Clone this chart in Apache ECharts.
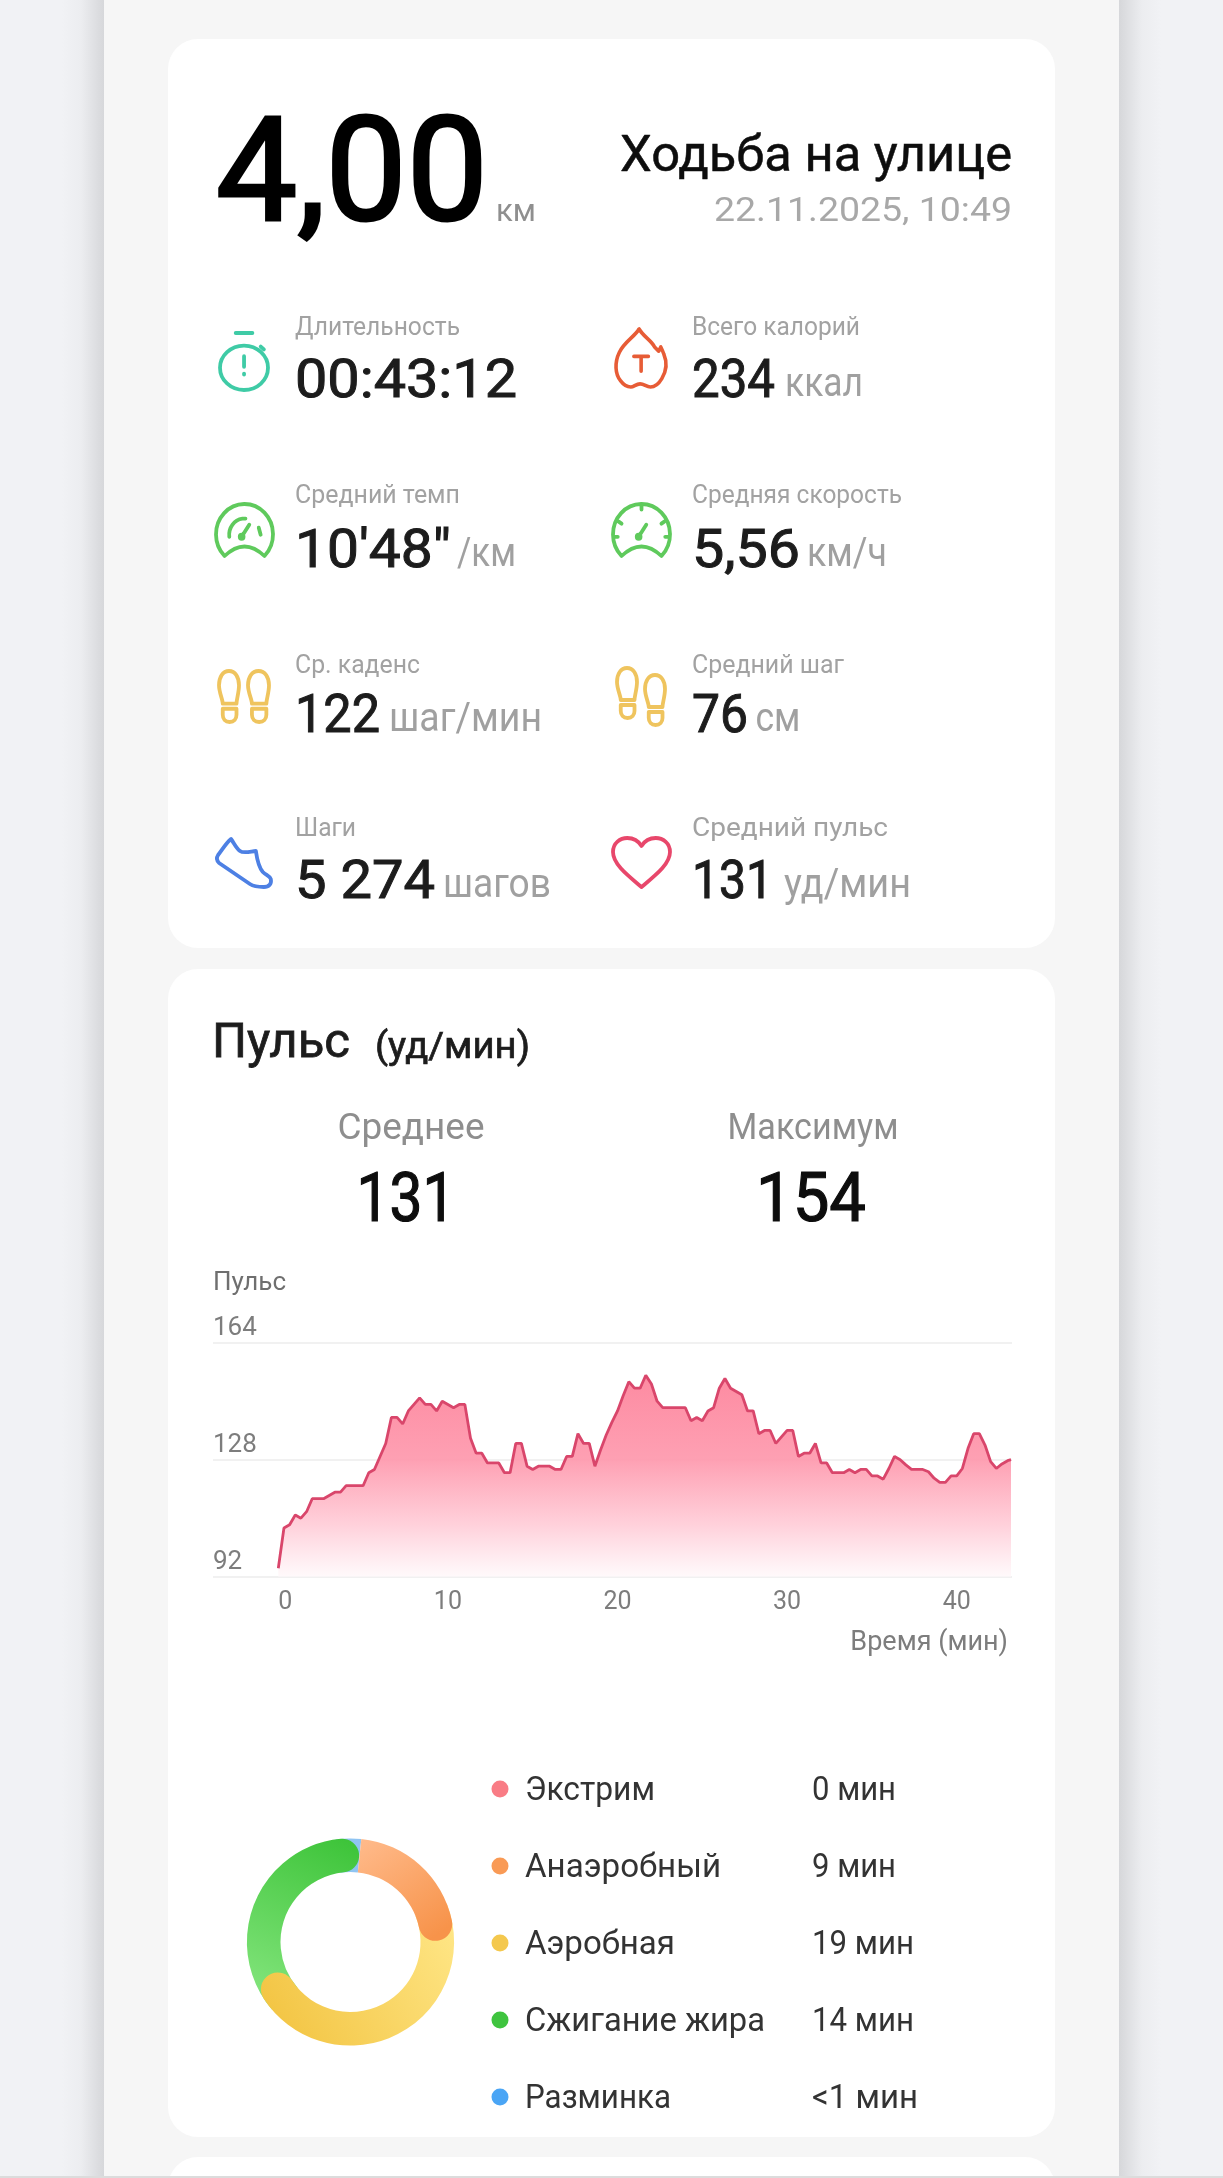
<!DOCTYPE html>
<html lang="ru">
<head>
<meta charset="utf-8">
<title>Ходьба на улице</title>
<style>html,body{margin:0;padding:0;background:#f1f2f5}#c{width:1223px;height:2178px}</style>
<script src="https://cdn.jsdelivr.net/npm/echarts@6/dist/echarts.min.js"></script>
</head>
<body>
<div id="c"></div>
<script>
// ---------- data ----------
const distanceValue = '4,00';
const distanceUnit = 'км';
const activityTitle = 'Ходьба на улице';
const activityDate = '22.11.2025, 10:49';
const metricLabels = ['Длительность','Всего калорий','Средний темп','Средняя скорость','Ср. каденс','Средний шаг','Шаги','Средний пульс'];
const metricValues = ['00:43:12','234','10\'48"','5,56','122','76','5 274','131'];
const metricUnits = ['','ккал','/км','км/ч','шаг/мин','см','шагов','уд/мин'];
const pulseTitle = 'Пульс';
const pulseUnit = '(уд/мин)';
const summaryLabels = ['Среднее','Максимум'];
const summaryValues = ['131','154'];
const yTicks = [92,128,164];
const xAxisName = 'Время (мин)';
const yAxisName = 'Пульс';
const durationMin = 43.2;
const sampleStepMin = 1/3;
// one heart-rate reading every 20 s
const pulse = [94.6,107,108,111,110,112,116,116,116,117,118,118,120,120,120,120,124,125,129,133,141,141,139,143,145,147,145,145,143,146,145,144,145,145,134.6,130,130,127,127,127,124,124,133,133,126,125,126,126,126,125,125,129,129,136,133,133,126,131,135.6,139.5,143,147.7,152,150,150,154,151.3,146,144,144,144,144,144,140,141,140,143,144,150,153,150,149,148,143,143,136,137,137,133,135,137,137,129,130,130,133,127,127,124,124,124,125,124,125,125,123,123,122,125.3,129,128,126.4,125,125,125,124.3,122.3,121,121,123,123,125.3,131.5,136,136,132.5,127.4,125.3,126.7,127.7,128];
const zoneNames = ['Экстрим','Анаэробный','Аэробная','Сжигание жира','Разминка'];
const zoneMinutes = [0,9,19,14,0.5];
const zoneTexts = ['0 мин','9 мин','19 мин','14 мин','<1 мин'];
const zoneColors = ['#f97c85','#f99a55','#f4c84e','#3fc43f','#4aa5f5'];

// ---------- helpers ----------
const FONT = 'Roboto, "Noto Sans", sans-serif';
const mctx = document.createElement('canvas').getContext('2d');
// base = text baseline; w = width of the text in the page (glyphs are stretched to it); bold = extra outline
function txt(x, base, text, size, color, align, weight, w, bold){
  const font=(weight||400)+' '+size+'px '+FONT;
  mctx.font=font;
  const sx = w ? w/mctx.measureText(text).width : 1;
  const style={text:text, fill:color, font:font, textAlign:align||'left', textVerticalAlign:'middle', verticalAlign:'middle'};
  if(bold){style.stroke=color; style.lineWidth=bold;}
  return {type:'text', x:x, y:base-size*0.27, z:10, silent:true, scaleX:sx, scaleY:1, style:style};
}
const lin=(x,y,x2,y2,a,b)=>({type:'linear',x,y,x2,y2,colorStops:[{offset:0,color:a},{offset:1,color:b}]});

// ---------- page furniture ----------
const g=[];
g.push({type:'rect',z:0,silent:true,shape:{x:62,y:0,width:42,height:2178},style:{fill:{type:'linear',x:0,y:0,x2:1,y2:0,colorStops:[{offset:0,color:'#f1f2f5'},{offset:.45,color:'#ecedf0'},{offset:1,color:'#d6d7da'}]}}});
g.push({type:'rect',z:0,silent:true,shape:{x:1119,y:0,width:42,height:2178},style:{fill:{type:'linear',x:0,y:0,x2:1,y2:0,colorStops:[{offset:0,color:'#d6d7da'},{offset:.55,color:'#ecedf0'},{offset:1,color:'#f1f2f5'}]}}});
g.push({type:'rect',z:1,silent:true,shape:{x:104,y:0,width:1015,height:2178},style:{fill:'#f6f6f6'}});
[[39,909],[969,1168],[2157,60]].forEach(c=>g.push({type:'rect',z:2,silent:true,shape:{x:168,y:c[0],width:887,height:c[1],r:30},style:{fill:'#ffffff'}}));
g.push({type:'rect',z:3,silent:true,shape:{x:0,y:2176,width:1223,height:2},style:{fill:'#dcdcdc'}});

// ---------- headline ----------
g.push(txt(216,223,distanceValue,144,'#000000','left',400,272,3));
g.push(txt(496,222,distanceUnit,32,'#8f8f8f','left',400,40));
g.push(txt(1012,172,activityTitle,50,'#0d0d0d','right',400,392,.5));
g.push(txt(1012,222,activityDate,34,'#a8a8a8','right',400,298));

// ---------- metrics ----------
const colX=[296,693];
const labelBase=[335,503,673,836];
const valueBase=[398,568,733,899];
const unitX=[0,785,457,807,389,755.5,443,784];
const labelW=[165,168,165,210,125,152,61,196];
const valueW=[222,83,156,108,85,56,140,81];
const unitW=[0,78,59,80,153,45,108,127];
metricLabels.forEach((l,i)=>{
  const c=i%2, r=(i-c)/2;
  g.push(txt(colX[c]-1,labelBase[r],l,25,'#a2a2a2','left',400,labelW[i]));
  g.push(txt(colX[c]-1,valueBase[r],metricValues[i],54,'#1c1c1c','left',400,valueW[i],1));
  if(metricUnits[i]) g.push(txt(unitX[i],valueBase[r]-1,metricUnits[i],41,'#a0a0a0','left',400,unitW[i]));
});

// ---------- pulse header ----------
g.push(txt(212,1058,pulseTitle,48,'#1c1c1c','left',400,138,.8));
g.push(txt(375,1059,pulseUnit,36,'#1c1c1c','left',400,155,.7));
g.push(txt(411,1140,summaryLabels[0],36,'#8e8e8e','center',400,147));
g.push(txt(813,1140,summaryLabels[1],36,'#8e8e8e','center',400,171));
g.push(txt(406,1222,summaryValues[0],68,'#0d0d0d','center',400,99,1.2));
g.push(txt(811,1222,summaryValues[1],68,'#0d0d0d','center',400,110,1.2));

// ---------- zone legend ----------
const legendY=[1789,1866,1943,2020,2097];
const nameW=[130,196,150,240,146];
const textW=[84,84,102,102,106];
zoneNames.forEach((n,i)=>{
  g.push({type:'circle',z:10,silent:true,shape:{cx:500,cy:legendY[i],r:8.5},style:{fill:zoneColors[i]}});
  g.push(txt(525,legendY[i]+12,n,32.5,'#333333','left',400,nameW[i]));
  g.push(txt(812,legendY[i]+12,zoneTexts[i],32.5,'#333333','left',400,textW[i]));
});

// ---------- icons (custom series: one outline path per datum) ----------
const green='#5fca5c', amber='#efc45e';
const foot='M8 1C13 1 16 7 16 15C16 22 14 29 14 33H3C3 29 0 22 0 15C0 7 3 1 8 1Z M3 38H14V44C14 48 12 51 8.500 51C5 51 3 48 3 44Z';
const needle='M27 33L35 21 M25 33a2 2 0 1 0 4 0a2 2 0 1 0 -4 0';
const icons=[
 ['M17 1H33 M25 14A23 23 0 1 1 24.9 14Z M41 15L44 18 M25 25V36 M25 43V44',220,333,48,57,'#3fcba6',3.8],
 ['M24 1C20 8 10 13 5 23C0 33 1 44 6 50C9 54 12 56 16 56C19 56 21 53 25 53C29 53 31 56 35 56C39 56 43 53 46 48C51 40 51 32 48 25C47 22 46 20 45 18L43 22L39 18C36 12 28 8 24 1Z M19 27H33 M26 27V41',616,329,50,58,'#e75c36',3.6],
 ['M9 52A30 30 0 1 1 51 52Q30 33 9 52Z M14 33A16 16 0 0 1 31 15 M45 24L47 31 '+needle,216,504,57,52,green,3.8],
 ['M9 52A30 30 0 1 1 51 52Q30 33 9 52Z M30 2V6 M6 18L9 20 M54 18L51 20 M2 33H5 M58 33H55 '+needle,613,504,57,52,green,3.8],
 [foot,219,671,20,51,amber,3.8],
 [foot,248,671,21,51,amber,3.8],
 [foot,617,668,20,50,amber,3.8],
 [foot,645,675,20,50,amber,3.8],
 ['M15 1C10 5 6 12 2 17C0 20 1 23 3 25L34 46C37 48 40 49 48 49C53 49 56 46 55 41C54 38 50 37 47 34C42 28 41 20 40 13C36 13 28 16 24 13C20 10 18 5 15 1Z',217,839,54,48,'#4d80e4',3.8],
 ['M29 50C15 38 1 27 1 15C1 6 8 1 15 1C21 1 26 4 29 9C32 4 37 1 43 1C50 1 57 6 57 15C57 27 43 38 29 50Z',613,838,57,49,'#e8476b',3.8]
];
const iconSeries={type:'custom',coordinateSystem:'none',silent:true,z:10,animation:false,
  data:icons.map((_,i)=>i),
  renderItem:(p)=>{const a=icons[p.dataIndex];return {type:'path',
    shape:{pathData:a[0],x:a[1],y:a[2],width:a[3],height:a[4],layout:'cover'},
    style:{fill:'none',stroke:a[5],lineWidth:a[6],lineCap:'round',lineJoin:'round'}};}};

// ---------- series ----------
const pulseData = pulse.map((v,i)=>[Math.min(i*sampleStepMin,durationMin),v]);

// donut: one pie per zone, painted so each rounded end overlaps the next zone
const zoneTotal = zoneMinutes.reduce((a,b)=>a+b,0);
const degPerMin = 360/zoneTotal;
const donutStart = 6, capOver = 5, underlap = 14;
function ring(idx, fromDeg, toDeg, fill, round){
  const span=toDeg-fromDeg;
  return {type:'pie', name:zoneNames[idx], z:4, silent:true, animation:false,
    center:[350.5,1942], radius:[70,103.6], startAngle:90-fromDeg, clockwise:true,
    label:{show:false}, labelLine:{show:false}, avoidLabelOverlap:false,
    data:[{value:span, name:zoneNames[idx], itemStyle:{color:fill, borderRadius:round?[0,16.8,0,16.8]:0}},
          {value:360-span, itemStyle:{color:'rgba(0,0,0,0)'}}]};
}
const aEnd=donutStart+zoneMinutes[1]*degPerMin;
const yEnd=aEnd+zoneMinutes[2]*degPerMin;
const gEnd=yEnd+zoneMinutes[3]*degPerMin;
const pies=[
  ring(4, donutStart-zoneMinutes[4]*degPerMin-10, donutStart, '#8fc4f2', false),
  ring(3, yEnd-underlap, gEnd+capOver-1, lin(.15,1,.85,0,'#86e67f','#3ec43a'), true),
  ring(2, aEnd-underlap, yEnd+capOver, lin(1,.05,.05,.8,'#ffe788','#f3c544'), true),
  ring(1, donutStart, aEnd+capOver+2, lin(0,0,.75,1,'#ffbb8c','#f7934a'), true)
];

const option = {
  backgroundColor:'#f1f2f5',
  animation:false,
  textStyle:{fontFamily:FONT},
  graphic:{elements:g},
  grid:[
    {left:213,right:211,top:1342.7,height:234},
    {left:278.3,right:212,top:1342.7,height:234}
  ],
  xAxis:[
    {gridIndex:0,type:'value',min:0,max:1,show:false},
    {gridIndex:1,type:'value',min:0,max:durationMin,interval:10,z:3,
     axisLine:{show:false},axisTick:{show:false},splitLine:{show:false},
     axisLabel:{color:'#7d7d7d',fontSize:25,margin:14,showMaxLabel:false,alignMinLabel:'left'},
     name:xAxisName,nameLocation:'end',nameGap:-3,
     nameTextStyle:{color:'#7d7d7d',fontSize:27,align:'right',verticalAlign:'top',padding:[53,0,0,0]}}
  ],
  yAxis:[
    {gridIndex:0,type:'value',min:yTicks[0],max:yTicks[2],z:3,
     axisLine:{show:false},axisTick:{show:false,customValues:yTicks},
     splitLine:{show:true,lineStyle:{color:'#ececec',width:1.5}},
     axisLabel:{customValues:yTicks,inside:true,align:'left',verticalAlign:'bottom',margin:0,padding:[0,0,1,0],color:'#7d7d7d',fontSize:26},
     name:yAxisName,nameLocation:'end',nameGap:46,
     nameTextStyle:{color:'#6f6f6f',fontSize:26,align:'left',verticalAlign:'bottom',padding:[0,0,0,0]}},
    {gridIndex:1,type:'value',min:yTicks[0],max:yTicks[2],show:false}
  ],
  series:[
    {type:'line',name:pulseTitle,xAxisIndex:1,yAxisIndex:1,data:pulseData,z:4,
     symbol:'none',smooth:false,silent:true,animation:false,
     lineStyle:{color:'#d9466b',width:2.8},
     areaStyle:{opacity:1,color:{type:'linear',x:0,y:0,x2:0,y2:1,colorStops:[
       {offset:0,color:'rgba(253,135,158,.97)'},{offset:.42,color:'rgba(254,155,175,.95)'},{offset:.75,color:'rgba(255,205,216,.9)'},{offset:1,color:'rgba(255,248,250,.8)'}]}}},
    ...pies,
    iconSeries
  ]
};
echarts.init(document.getElementById('c')).setOption(option);
</script>
</body>
</html>
